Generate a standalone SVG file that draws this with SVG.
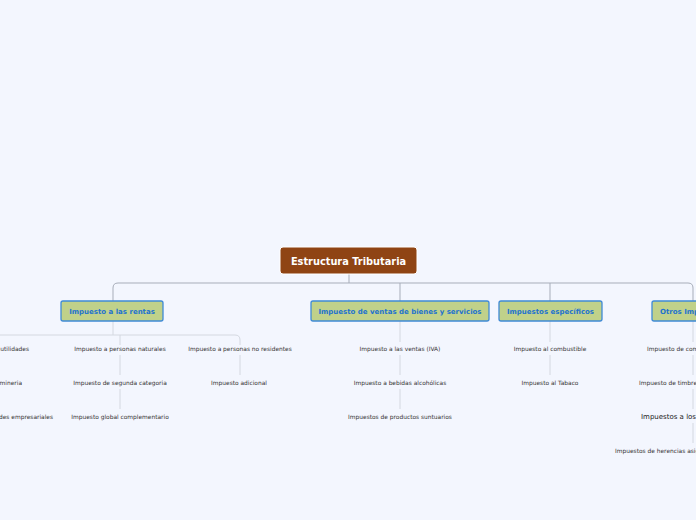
<svg xmlns="http://www.w3.org/2000/svg" width="696" height="520" viewBox="0 0 696 520">
<style>
.c{fill:none;stroke:#a7adb9;stroke-width:1}
.s{fill:none;stroke:#d4d8e0;stroke-width:1}
.m{fill:#c0d18a;stroke:#3f8ad6;stroke-width:1.3}
.mt{font-family:"DejaVu Sans",sans-serif;font-size:7px;font-weight:bold;fill:#1f73cf;text-anchor:middle}
.t{font-family:"DejaVu Sans",sans-serif;font-size:5.9px;fill:#333;text-anchor:middle}
</style>
<rect width="696" height="520" fill="#f3f6fe"/>
<g id="connectors">
<path class="c" d="M349 274V283M113 301V288Q113 283 118 283H688Q693 283 693 288V301M400 283V301M550 283V301"/>
<path class="s" d="M113 321V335M-10 335H235Q240 335 240 340V345M120 335V345M120 355V375M120 389V409M240 355V375"/>
<path class="s" d="M400 321V342M400 355V375M400 389V409M550 321V342M550 355V375M693 321V342M693 355V375M693 389V409M693 423V443"/>
</g>
<g id="root"><rect x="280" y="247" width="137" height="27" rx="3" fill="#8f4414" stroke="#fff" stroke-width="1"/><text x="348.5" y="264.5" font-family="DejaVu Sans,sans-serif" font-size="9.8" font-weight="bold" fill="#fff" text-anchor="middle">Estructura Tributaria</text></g>
<g id="n1"><rect class="m" x="61" y="301" width="102" height="20" rx="2"/><text class="mt" x="112" y="313.5">Impuesto a las rentas</text></g>
<g id="n2"><rect class="m" x="311" y="301" width="178" height="20" rx="2"/><text class="mt" x="400" y="313.5">Impuesto de ventas de bienes y servicios</text></g>
<g id="n3"><rect class="m" x="499" y="301" width="103" height="20" rx="2"/><text class="mt" x="550.5" y="313.5">Impuestos específicos</text></g>
<g id="n4"><rect class="m" x="652" y="301" width="100" height="20" rx="2"/><text class="mt" x="660" y="313.5" style="text-anchor:start">Otros Impuestos</text></g>
<g id="leaves">
<text class="t" x="29" y="351" style="text-anchor:end">Impuesto a las utilidades</text>
<text class="t" x="22" y="385" style="text-anchor:end">Impuesto a la mineria</text>
<text class="t" x="53" y="419" style="text-anchor:end">Impuesto a las utilidades empresariales</text>
<text class="t" x="120" y="351">Impuesto a personas naturales</text>
<text class="t" x="120" y="385">Impuesto de segunda categoria</text>
<text class="t" x="120" y="419">Impuesto global complementario</text>
<text class="t" x="240" y="351">Impuesto a personas no residentes</text>
<text class="t" x="239" y="385">Impuesto adicional</text>
<text class="t" x="400" y="351">Impuesto a las ventas (IVA)</text>
<text class="t" x="400" y="385">Impuesto a bebidas alcohólicas</text>
<text class="t" x="400" y="419">Impuestos de productos suntuarios</text>
<text class="t" x="550" y="351">Impuesto al combustible</text>
<text class="t" x="550" y="385">Impuesto al Tabaco</text>
<text class="t" x="647" y="351" style="text-anchor:start">Impuesto de comercio exterior</text>
<text class="t" x="639" y="385" style="text-anchor:start">Impuesto de timbres y estampillas</text>
<text x="641" y="419" font-family="DejaVu Sans,sans-serif" font-size="7" fill="#222">Impuestos a los juegos de azar</text>
<text class="t" x="615" y="453" style="text-anchor:start">Impuestos de herencias asignaciones y donaciones</text>
</g>
</svg>
